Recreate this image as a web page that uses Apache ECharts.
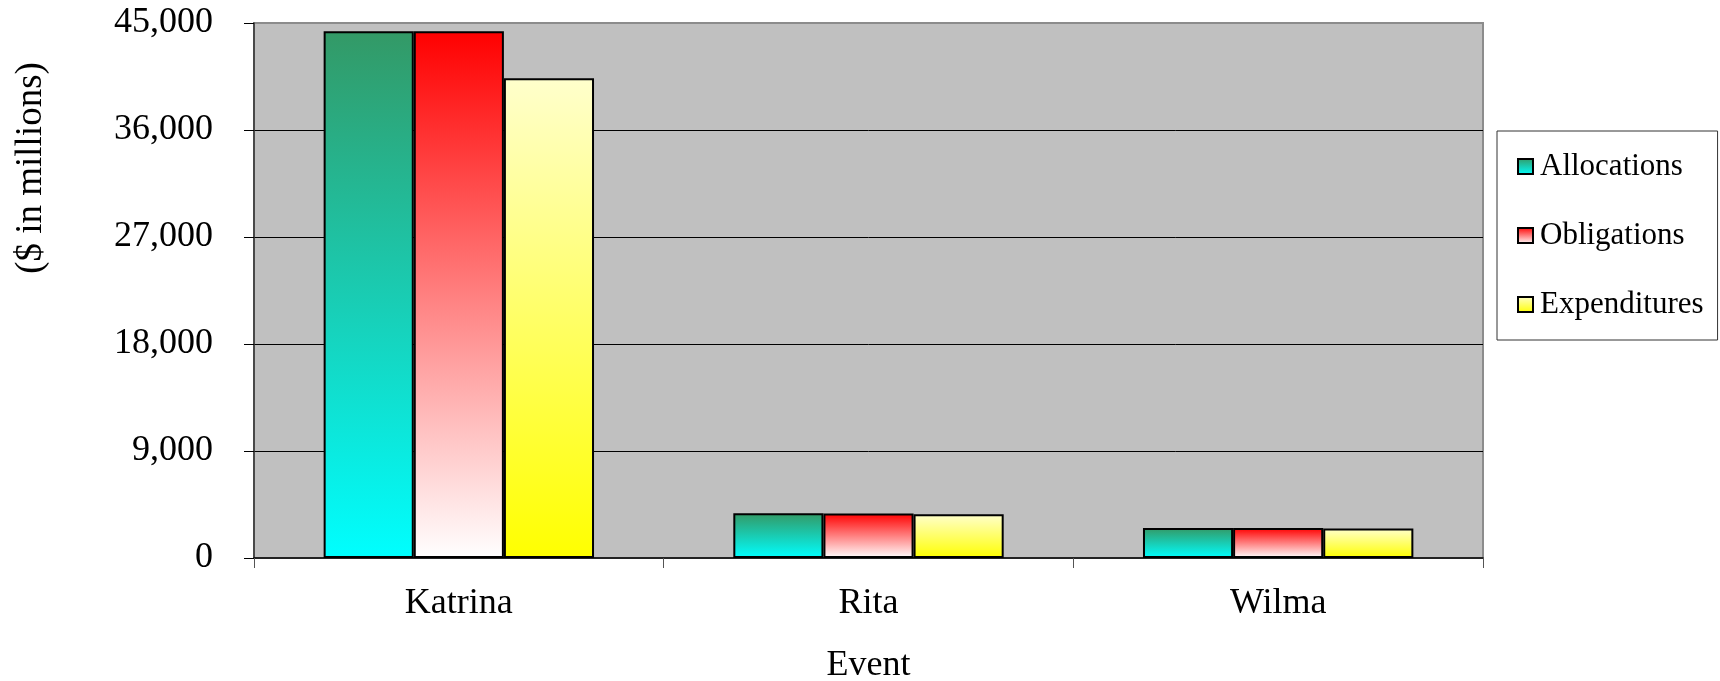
<!DOCTYPE html>
<html>
<head>
<meta charset="utf-8">
<script src="https://cdn.jsdelivr.net/npm/echarts@6/dist/echarts.min.js"></script>
<style>
html,body{margin:0;padding:0;background:#fff;}
#chart{width:1720px;height:681px;}
</style>
</head>
<body>
<div id="chart"></div>
<script>
var categories = ['Katrina', 'Rita', 'Wilma'];
var allocations = [44300, 3760, 2530];
var obligations = [44300, 3750, 2520];
var expenditures = [40350, 3680, 2480];
var yTicks = [0, 9000, 18000, 27000, 36000, 45000];

var FONT = '"Liberation Serif", "Times New Roman", serif';

function grad(top, bottom) {
  return new echarts.graphic.LinearGradient(0, 0, 0, 1, [
    {offset: 0, color: top},
    {offset: 1, color: bottom}
  ]);
}

function barSeries(name, data, top, bottom) {
  return {
    name: name,
    type: 'bar',
    data: data,
    barGap: '0%',
    barCategoryGap: '34%',
    itemStyle: {
      color: grad(top, bottom),
      borderColor: '#000',
      borderWidth: 2
    },
    emphasis: {disabled: true}
  };
}

var chart = echarts.init(document.getElementById('chart'));
chart.setOption({
  animation: false,
  textStyle: {fontFamily: FONT},
  grid: {
    left: 254, right: 237, top: 23, bottom: 123,
    outerBoundsMode: 'none',
    containLabel: false,
    show: true,
    backgroundColor: '#C0C0C0',
    borderColor: '#8c8c8c',
    borderWidth: 2
  },
  legend: {
    orient: 'vertical',
    left: 1497,
    top: 131,
    icon: 'rect',
    itemWidth: 15,
    itemHeight: 15,
    itemGap: 38,
    padding: [20, 14, 20, 20],
    borderColor: '#333',
    borderWidth: 1,
    backgroundColor: '#fff',
    textStyle: {fontFamily: FONT, fontSize: 31, color: '#000', lineHeight: 31, padding: [0, 0, 0, 2]},
    data: ['Allocations', 'Obligations', 'Expenditures']
  },
  graphic: [{
    type: 'text',
    x: 31,
    y: 168,
    rotation: Math.PI / 2,
    style: {
      text: '($ in millions)',
      font: '37px ' + FONT,
      fill: '#000',
      align: 'center',
      verticalAlign: 'middle'
    }
  }],
  xAxis: {
    type: 'category',
    data: categories,
    name: 'Event',
    nameLocation: 'middle',
    nameGap: 90,
    nameTextStyle: {fontFamily: FONT, fontSize: 36, color: '#000'},
    axisLine: {lineStyle: {color: '#000', width: 1.5}},
    axisTick: {show: true, alignWithLabel: false, length: 10, lineStyle: {color: '#555'}},
    axisLabel: {fontFamily: FONT, fontSize: 36, color: '#000', margin: 28}
  },
  yAxis: {
    type: 'value',
    min: 0,
    max: 45000,
    interval: 9000,
    axisLine: {show: true, lineStyle: {color: '#333', width: 1.5}},
    axisTick: {show: true, length: 10, lineStyle: {color: '#000'}},
    axisLabel: {
      fontFamily: FONT, fontSize: 36, color: '#000', margin: 41,
      formatter: function (v) {
        return yTicks.indexOf(v) >= 0 ? v.toLocaleString('en-US') : '';
      }
    },
    splitLine: {show: true, showMaxLine: false, showMinLine: false, lineStyle: {color: '#000', width: 1}}
  },
  series: [
    barSeries('Allocations', allocations, '#339966', '#00FFFF'),
    barSeries('Obligations', obligations, '#FF0000', '#FFFFFF'),
    barSeries('Expenditures', expenditures, '#FFFFCC', '#FFFF00')
  ]
});
</script>
</body>
</html>
